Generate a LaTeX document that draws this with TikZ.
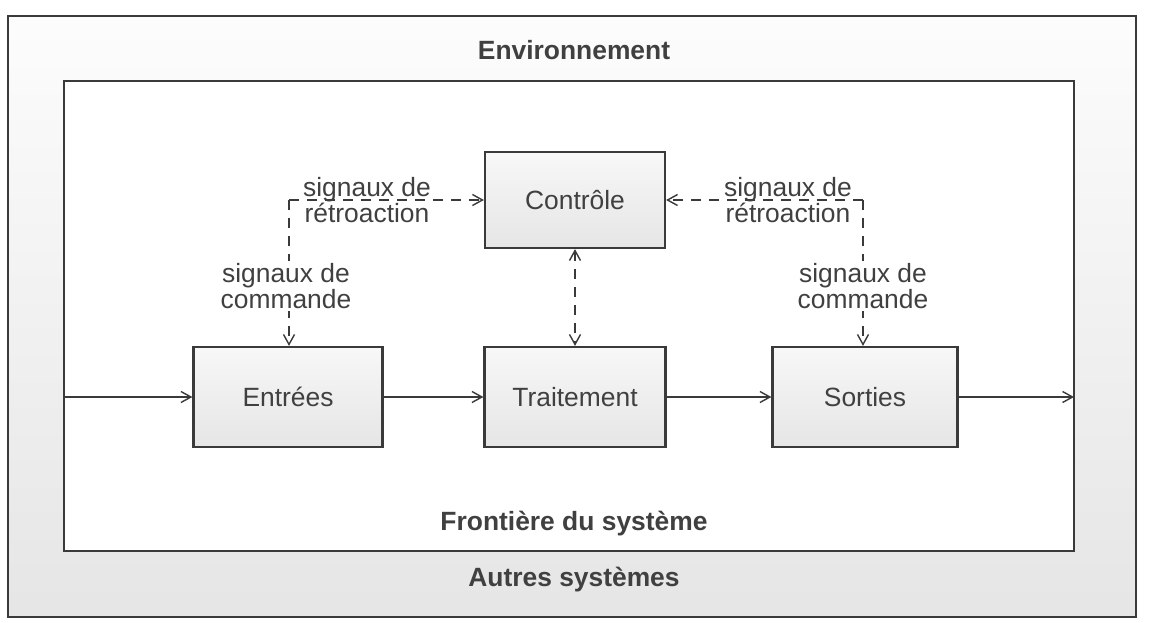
\documentclass[tikz,border=0pt]{standalone}
\usepackage{fontspec}
\setmainfont{Liberation Sans}
\usetikzlibrary{arrows.meta}
\definecolor{ink}{HTML}{3A3A3A}
\definecolor{txt}{HTML}{404040}
\tikzset{
  base/.style={font=\fontsize{13.2}{13}\selectfont, text=txt},
  title/.style={base, font=\fontsize{13.2}{13}\selectfont\bfseries},
  block/.style={base, draw=ink, line width=1.1pt, top color=black!3, bottom color=black!10,
                minimum width=0.5*#1, minimum height=50, inner sep=0pt},
  block/.default=185,
  tipA/.style={-{Straight Barb[length=5pt,width=5.5pt,line width=0.7pt]}},
  flow/.style={draw=ink, line width=0.7pt, tipA},
  signal/.style={draw=ink, line width=0.7pt, dash pattern=on 5pt off 4pt},
  lab/.style={base, align=center, inner sep=1pt},
}
\begin{document}
\begin{tikzpicture}[x=0.5pt, y=-0.5pt]
  \useasboundingbox (0,0) rectangle (1157,622);
  \fill[white] (0,0) rectangle (1157,622);

  % environment ring and system boundary
  \shade[top color=black!1, bottom color=black!10] (8,16) rectangle (1136,617);
  \draw[ink, line width=1pt] (8,16) rectangle (1136,617);
  \fill[white] (64,81) rectangle (1074,551);
  \draw[ink, line width=1pt] (64,81) rectangle (1074,551);

  \node[title] (env) at (574,50) {Environnement};
  \node[title] (front) at (574,524) {Frontière du système};
  \node[title] (autres) at (574,580) {Autres systèmes};

  % blocks
  \node[block=180, minimum height=48] (ctrl) at (575,200) {Contrôle};
  \node[block=189] (entrees) at (288,397) {Entrées};
  \node[block=181] (trait) at (575,397) {Traitement};
  \node[block=185] (sorties) at (865,397) {Sorties};

  % main flow
  \coordinate (in) at (64,397);
  \coordinate (out) at (1074,397);
  \draw[flow] (in) -- (entrees.west);
  \draw[flow] (entrees.east) -- (trait.west);
  \draw[flow] (trait.east) -- (sorties.west);
  \draw[flow] (sorties.east) -- (out);

  % feedback and command signals
  \coordinate (cl) at (289,200);
  \coordinate (cr) at (863,200);
  \draw[signal, tipA] (cl) -- (ctrl.west);
  \draw[signal, tipA] (cr) -- (ctrl.east);
  \draw[signal, tipA] (cl) -- (cl |- entrees.north);
  \draw[signal, tipA] (cr) -- (cr |- sorties.north);
  \draw[signal, {Straight Barb[length=5pt,width=5.5pt,line width=0.7pt]}-{Straight Barb[length=5pt,width=5.5pt,line width=0.7pt]}]
    (ctrl.south) -- (trait.north);

  \node[lab] (fbl) at (367,200) {signaux de\\rétroaction};
  \node[lab] (fbr) at (788,200) {signaux de\\rétroaction};
  \node[lab, fill=white] (cmdl) at (286,286) {signaux de\\commande};
  \node[lab, fill=white] (cmdr) at (863,286) {signaux de\\commande};
\end{tikzpicture}
\end{document}
